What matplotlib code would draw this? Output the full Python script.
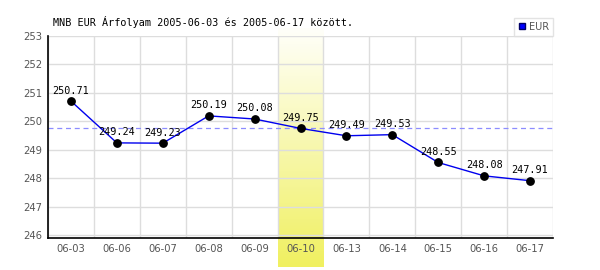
import numpy as np
import matplotlib
matplotlib.use("Agg")
from matplotlib import pyplot as plt
from matplotlib.lines import Line2D

days = ["06-03", "06-06", "06-07", "06-08", "06-09", "06-10",
        "06-13", "06-14", "06-15", "06-16", "06-17"]
eur = [250.71, 249.24, 249.23, 250.19, 250.08, 249.75,
       249.49, 249.53, 248.55, 248.08, 247.91]
ref_value = 249.75
highlight = "06-10"
title = "MNB EUR Árfolyam 2005-06-03 és 2005-06-17 között."

fig = plt.figure(figsize=(6, 2.7), dpi=100)
ax = fig.add_axes([48 / 600, 1 - 238 / 270, 505 / 600, 202 / 270])

x = np.arange(len(days))
y = np.array(eur)

ax.set_xlim(-0.5, len(days) - 0.5)
ax.set_ylim(245.894, 253.0)

# grid
for b in np.arange(-0.5, len(days), 1.0):
    ax.axvline(b, color="#dddddd", lw=1, zorder=0)
for t in range(246, 254):
    ax.axhline(t, color="#dddddd", lw=1, zorder=0)

# highlighted day, gradient that runs past the axes
hi = days.index(highlight)
grad = np.linspace(0, 1, 256).reshape(-1, 1)
cmap = matplotlib.colors.LinearSegmentedColormap.from_list(
    "hl", ["#fffffa", "#f0f060"])
band_ax = fig.add_axes([(48 + 45.9 * hi) / 600, 1 - 267 / 270,
                        45.9 / 600, (267 - 28) / 270], zorder=0.5)
band_ax.imshow(grad, aspect="auto", cmap=cmap, extent=[0, 1, 1, 0])
band_ax.axis("off")
ax.set_zorder(1)
ax.patch.set_visible(False)

ax.axhline(ref_value, color="#8c8cff", lw=0.9, ls=(0, (4, 3)), zorder=2)

ax.plot(x, y, "-", color="#0000ee", lw=1.0, zorder=3)
ax.plot(x, y, "o", color="black", ms=5.3, zorder=4)
for xi, yi in zip(x, y):
    ax.annotate("%.2f" % yi, (xi, yi), xytext=(0, 4),
                textcoords="offset points", ha="center", va="bottom",
                fontsize=7.3, family="DejaVu Sans Mono", color="black",
                zorder=5)

ax.set_xticks(x)
ax.set_xticklabels(days)
ax.set_yticks(range(246, 254))
ax.tick_params(length=0, labelsize=7.2, labelcolor="#555555")
ax.tick_params(axis="x", pad=4)
ax.tick_params(axis="y", pad=4)
for s in ["top", "right"]:
    ax.spines[s].set_visible(False)
ax.spines["left"].set_linewidth(1.2)
ax.spines["bottom"].set_linewidth(1.2)

fig.text(53 / 600, 1 - 22 / 270, title, fontsize=7.3, family="DejaVu Sans Mono",
         va="center", ha="left", color="black")

h = Line2D([], [], marker="s", ls="none", mfc="#0000ff", mec="#000066",
           ms=5)
leg = fig.legend([h], ["EUR"], loc="upper right",
                 bbox_to_anchor=(553 / 600, 1 - 18 / 270), fontsize=7,
                 frameon=True, fancybox=False, handlelength=0.8,
                 handletextpad=0.3, borderpad=0.4, borderaxespad=0)
leg.get_frame().set_edgecolor("#dddddd")
leg.get_frame().set_linewidth(1)
for t in leg.get_texts():
    t.set_color("#555555")

fig.savefig("out.png", dpi=100)
